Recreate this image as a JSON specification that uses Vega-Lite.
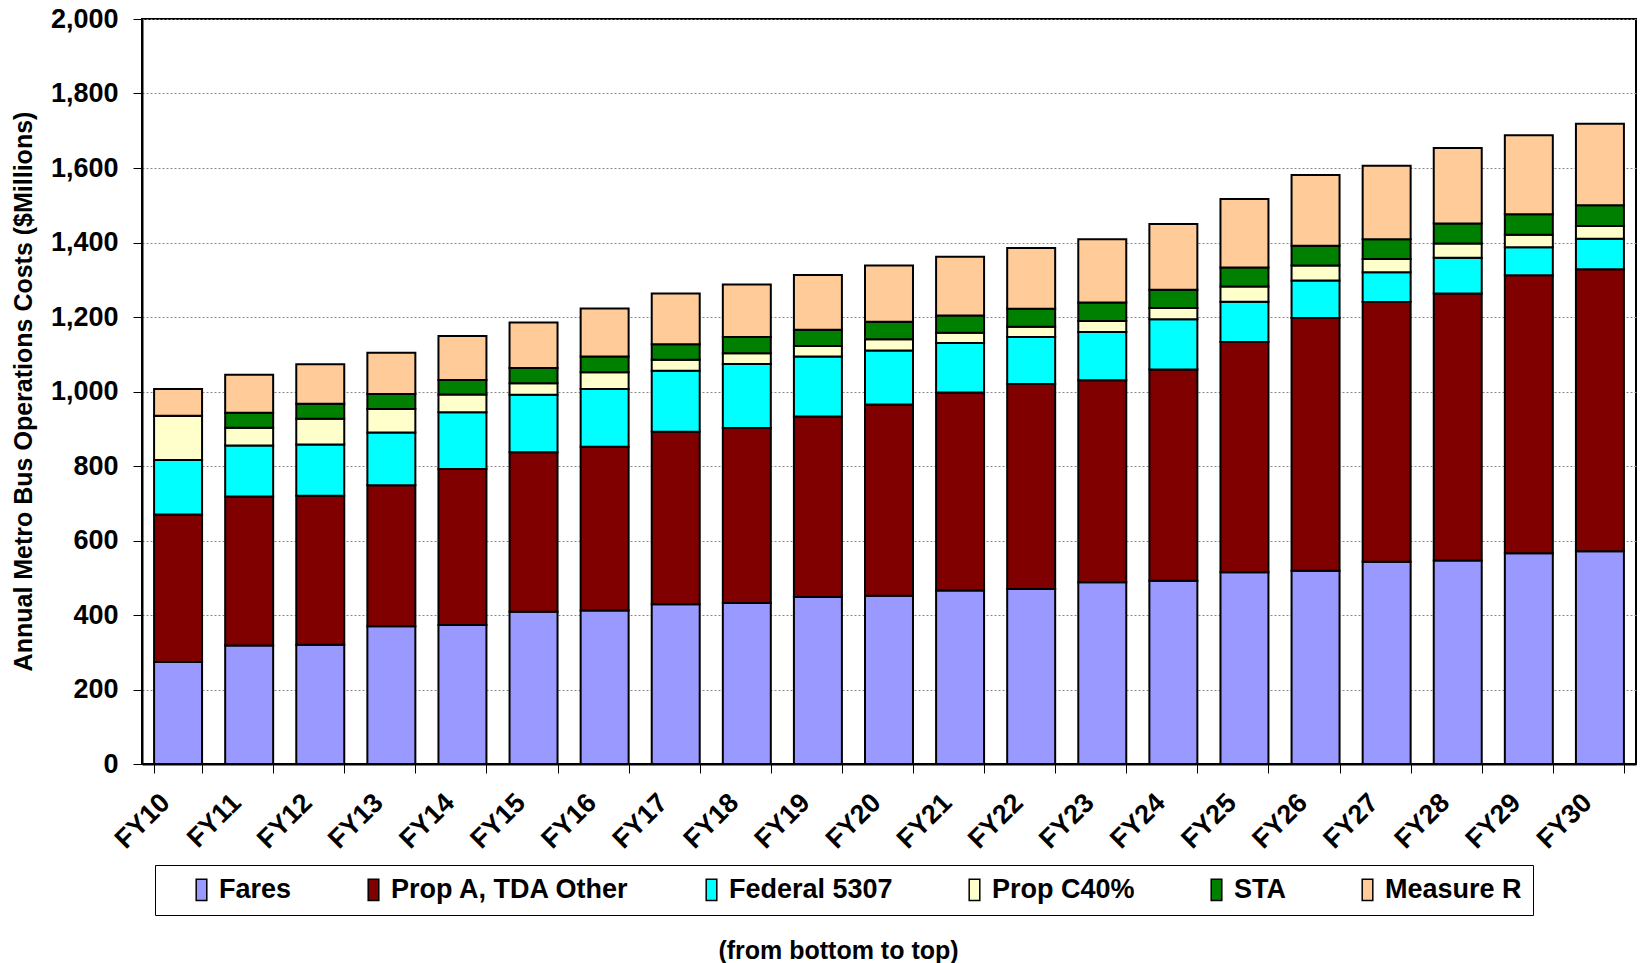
{
  "$schema": "https://vega.github.io/schema/vega-lite/v6.json",
  "width": 1494,
  "height": 745,
  "autosize": {"type": "none"},
  "padding": {"left": 142, "top": 19, "right": 6, "bottom": 199},
  "background": "white",
  "config": {
    "font": "Liberation Sans",
    "view": {"stroke": "black", "strokeWidth": 2},
    "axis": {"labelFont": "Liberation Sans", "titleFont": "Liberation Sans", "labelColor": "black", "titleColor": "black", "labelFontWeight": "bold", "titleFontWeight": "bold"}
  },
  "data": {"values": [
    {"y":"FY10","s":"Fares","v":274,"k":1},{"y":"FY10","s":"Prop A, TDA Other","v":396,"k":2},{"y":"FY10","s":"Federal 5307","v":146,"k":3},{"y":"FY10","s":"Prop C40%","v":119,"k":4},{"y":"FY10","s":"STA","v":0,"k":5},{"y":"FY10","s":"Measure R","v":72,"k":6},
    {"y":"FY11","s":"Fares","v":318,"k":1},{"y":"FY11","s":"Prop A, TDA Other","v":400,"k":2},{"y":"FY11","s":"Federal 5307","v":137,"k":3},{"y":"FY11","s":"Prop C40%","v":48,"k":4},{"y":"FY11","s":"STA","v":40,"k":5},{"y":"FY11","s":"Measure R","v":102,"k":6},
    {"y":"FY12","s":"Fares","v":320,"k":1},{"y":"FY12","s":"Prop A, TDA Other","v":400,"k":2},{"y":"FY12","s":"Federal 5307","v":138,"k":3},{"y":"FY12","s":"Prop C40%","v":69,"k":4},{"y":"FY12","s":"STA","v":40,"k":5},{"y":"FY12","s":"Measure R","v":106,"k":6},
    {"y":"FY13","s":"Fares","v":370,"k":1},{"y":"FY13","s":"Prop A, TDA Other","v":378,"k":2},{"y":"FY13","s":"Federal 5307","v":142,"k":3},{"y":"FY13","s":"Prop C40%","v":63,"k":4},{"y":"FY13","s":"STA","v":40,"k":5},{"y":"FY13","s":"Measure R","v":111,"k":6},
    {"y":"FY14","s":"Fares","v":373,"k":1},{"y":"FY14","s":"Prop A, TDA Other","v":419,"k":2},{"y":"FY14","s":"Federal 5307","v":152,"k":3},{"y":"FY14","s":"Prop C40%","v":48,"k":4},{"y":"FY14","s":"STA","v":39,"k":5},{"y":"FY14","s":"Measure R","v":118,"k":6},
    {"y":"FY15","s":"Fares","v":409,"k":1},{"y":"FY15","s":"Prop A, TDA Other","v":428,"k":2},{"y":"FY15","s":"Federal 5307","v":154,"k":3},{"y":"FY15","s":"Prop C40%","v":31,"k":4},{"y":"FY15","s":"STA","v":41,"k":5},{"y":"FY15","s":"Measure R","v":122,"k":6},
    {"y":"FY16","s":"Fares","v":412,"k":1},{"y":"FY16","s":"Prop A, TDA Other","v":440,"k":2},{"y":"FY16","s":"Federal 5307","v":155,"k":3},{"y":"FY16","s":"Prop C40%","v":45,"k":4},{"y":"FY16","s":"STA","v":42,"k":5},{"y":"FY16","s":"Measure R","v":129,"k":6},
    {"y":"FY17","s":"Fares","v":429,"k":1},{"y":"FY17","s":"Prop A, TDA Other","v":463,"k":2},{"y":"FY17","s":"Federal 5307","v":164,"k":3},{"y":"FY17","s":"Prop C40%","v":29,"k":4},{"y":"FY17","s":"STA","v":42,"k":5},{"y":"FY17","s":"Measure R","v":136,"k":6},
    {"y":"FY18","s":"Fares","v":432,"k":1},{"y":"FY18","s":"Prop A, TDA Other","v":470,"k":2},{"y":"FY18","s":"Federal 5307","v":172,"k":3},{"y":"FY18","s":"Prop C40%","v":29,"k":4},{"y":"FY18","s":"STA","v":43,"k":5},{"y":"FY18","s":"Measure R","v":141,"k":6},
    {"y":"FY19","s":"Fares","v":448,"k":1},{"y":"FY19","s":"Prop A, TDA Other","v":485,"k":2},{"y":"FY19","s":"Federal 5307","v":161,"k":3},{"y":"FY19","s":"Prop C40%","v":28,"k":4},{"y":"FY19","s":"STA","v":44,"k":5},{"y":"FY19","s":"Measure R","v":147,"k":6},
    {"y":"FY20","s":"Fares","v":452,"k":1},{"y":"FY20","s":"Prop A, TDA Other","v":513,"k":2},{"y":"FY20","s":"Federal 5307","v":145,"k":3},{"y":"FY20","s":"Prop C40%","v":30,"k":4},{"y":"FY20","s":"STA","v":47,"k":5},{"y":"FY20","s":"Measure R","v":151,"k":6},
    {"y":"FY21","s":"Fares","v":466,"k":1},{"y":"FY21","s":"Prop A, TDA Other","v":531,"k":2},{"y":"FY21","s":"Federal 5307","v":133,"k":3},{"y":"FY21","s":"Prop C40%","v":28,"k":4},{"y":"FY21","s":"STA","v":46,"k":5},{"y":"FY21","s":"Measure R","v":158,"k":6},
    {"y":"FY22","s":"Fares","v":470,"k":1},{"y":"FY22","s":"Prop A, TDA Other","v":550,"k":2},{"y":"FY22","s":"Federal 5307","v":126,"k":3},{"y":"FY22","s":"Prop C40%","v":28,"k":4},{"y":"FY22","s":"STA","v":48,"k":5},{"y":"FY22","s":"Measure R","v":163,"k":6},
    {"y":"FY23","s":"Fares","v":488,"k":1},{"y":"FY23","s":"Prop A, TDA Other","v":542,"k":2},{"y":"FY23","s":"Federal 5307","v":130,"k":3},{"y":"FY23","s":"Prop C40%","v":29,"k":4},{"y":"FY23","s":"STA","v":50,"k":5},{"y":"FY23","s":"Measure R","v":170,"k":6},
    {"y":"FY24","s":"Fares","v":492,"k":1},{"y":"FY24","s":"Prop A, TDA Other","v":567,"k":2},{"y":"FY24","s":"Federal 5307","v":135,"k":3},{"y":"FY24","s":"Prop C40%","v":30,"k":4},{"y":"FY24","s":"STA","v":49,"k":5},{"y":"FY24","s":"Measure R","v":177,"k":6},
    {"y":"FY25","s":"Fares","v":515,"k":1},{"y":"FY25","s":"Prop A, TDA Other","v":618,"k":2},{"y":"FY25","s":"Federal 5307","v":108,"k":3},{"y":"FY25","s":"Prop C40%","v":41,"k":4},{"y":"FY25","s":"STA","v":51,"k":5},{"y":"FY25","s":"Measure R","v":184,"k":6},
    {"y":"FY26","s":"Fares","v":519,"k":1},{"y":"FY26","s":"Prop A, TDA Other","v":678,"k":2},{"y":"FY26","s":"Federal 5307","v":101,"k":3},{"y":"FY26","s":"Prop C40%","v":40,"k":4},{"y":"FY26","s":"STA","v":53,"k":5},{"y":"FY26","s":"Measure R","v":190,"k":6},
    {"y":"FY27","s":"Fares","v":543,"k":1},{"y":"FY27","s":"Prop A, TDA Other","v":697,"k":2},{"y":"FY27","s":"Federal 5307","v":80,"k":3},{"y":"FY27","s":"Prop C40%","v":36,"k":4},{"y":"FY27","s":"STA","v":53,"k":5},{"y":"FY27","s":"Measure R","v":197,"k":6},
    {"y":"FY28","s":"Fares","v":546,"k":1},{"y":"FY28","s":"Prop A, TDA Other","v":717,"k":2},{"y":"FY28","s":"Federal 5307","v":96,"k":3},{"y":"FY28","s":"Prop C40%","v":38,"k":4},{"y":"FY28","s":"STA","v":54,"k":5},{"y":"FY28","s":"Measure R","v":203,"k":6},
    {"y":"FY29","s":"Fares","v":566,"k":1},{"y":"FY29","s":"Prop A, TDA Other","v":746,"k":2},{"y":"FY29","s":"Federal 5307","v":75,"k":3},{"y":"FY29","s":"Prop C40%","v":34,"k":4},{"y":"FY29","s":"STA","v":55,"k":5},{"y":"FY29","s":"Measure R","v":212,"k":6},
    {"y":"FY30","s":"Fares","v":571,"k":1},{"y":"FY30","s":"Prop A, TDA Other","v":757,"k":2},{"y":"FY30","s":"Federal 5307","v":82,"k":3},{"y":"FY30","s":"Prop C40%","v":34,"k":4},{"y":"FY30","s":"STA","v":56,"k":5},{"y":"FY30","s":"Measure R","v":219,"k":6}
  ]},
  "mark": {"type": "bar", "stroke": "black", "strokeWidth": 2, "strokeOpacity": 1},
  "encoding": {
    "x": {
      "field": "y", "type": "ordinal",
      "scale": {"paddingInner": 0.325, "paddingOuter": 0.17},
      "axis": {
        "title": "(from bottom to top)",
        "titleFontSize": 25, "titlePadding": 85, "titleX": 696,
        "labelAngle": -45, "labelFontSize": 27, "labelPadding": 16, "labelOffset": -22,
        "tickBand": "extent", "tickSize": 9, "tickColor": "black", "tickWidth": 1,
        "domainColor": "black", "domainWidth": 2, "grid": false
      }
    },
    "y": {
      "field": "v", "type": "quantitative", "stack": "zero",
      "scale": {"domain": [0, 2000], "nice": false},
      "axis": {
        "title": "Annual Metro Bus Operations Costs ($Millions)",
        "titleFontSize": 25, "titleX": -119, "titleY": 372, "titleAngle": -90, "titleBaseline": "middle", "titleAlign": "center",
        "values": [0,200,400,600,800,1000,1200,1400,1600,1800,2000],
        "format": ",d", "labelFontSize": 27, "labelPadding": 15,
        "tickSize": 9, "tickColor": "black", "tickWidth": 1,
        "domainColor": "black", "domainWidth": 2,
        "grid": true, "gridColor": "#888888", "gridDash": [2, 2], "gridWidth": 1
      }
    },
    "color": {
      "field": "s", "type": "nominal",
      "scale": {
        "domain": ["Fares", "Prop A, TDA Other", "Federal 5307", "Prop C40%", "STA", "Measure R"],
        "range": ["#9999FF", "#800000", "#00FFFF", "#FFFFCC", "#008000", "#FFCC99"]
      },
      "legend": {
        "title": null, "orient": "none", "legendX": 13, "legendY": 846,
        "direction": "horizontal", "columns": 6, "columnPadding": 46,
        "padding": 11, "strokeColor": "black", "fillColor": "white",
        "symbolType": "M-0.5,-1H0.5V1H-0.5Z", "symbolSize": 450, "symbolOffset": 22,
        "symbolStrokeColor": "black", "symbolStrokeWidth": 1.5, "symbolOpacity": 1,
        "labelFont": "Liberation Sans", "labelFontSize": 27, "labelFontWeight": "bold",
        "labelColor": "black", "labelOffset": 4, "labelLimit": 400
      }
    },
    "order": {"field": "k", "type": "quantitative", "sort": "ascending"}
  }
}
